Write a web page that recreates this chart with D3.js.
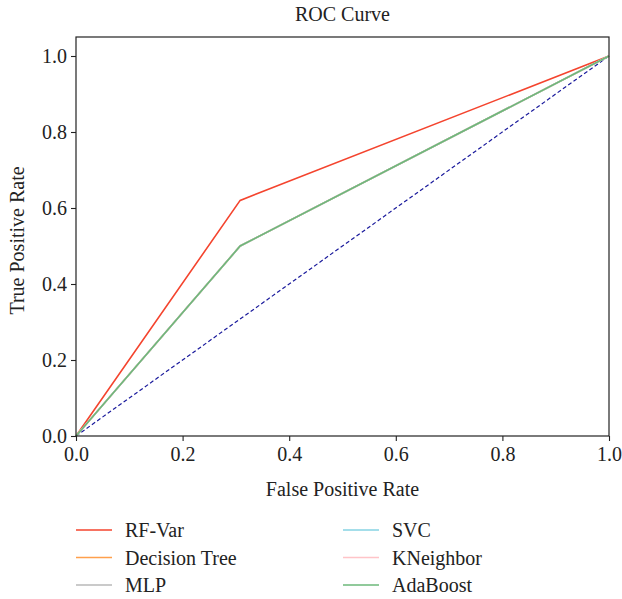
<!DOCTYPE html>
<html><head><meta charset="utf-8">
<script src="https://cdn.jsdelivr.net/npm/d3@7"></script>
<style>body{margin:0;background:#fff;} text{font-family:"Liberation Serif","DejaVu Serif",serif;fill:#222;}</style>
</head><body>
<svg id="c" width="622" height="599"></svg>
<script>
const seriesNames = ["RF-Var","Decision Tree","MLP","SVC","KNeighbor","AdaBoost"];
const seriesColors = ["#f4442e","#ffa04c","#b8b8b8","#86d3e3","#ffc4c8","#6db87a"];
const fpr = [0, 0.308, 1];
const tprRF = [0, 0.62, 1];
const tprDT = [0, 0.5, 1];
const tprMLP = [0, 0.5, 1];
const tprSVC = [0, 0.5, 1];
const tprKN = [0, 0.5, 1];
const tprAda = [0, 0.5, 1];
const diagonal = [0, 1];
const tickValues = [0, 0.2, 0.4, 0.6, 0.8, 1.0];

const svg = d3.select("#c");
const L = 76, R = 609, T = 37, B = 436;
const FS = "20px";
const x = d3.scaleLinear().domain([0,1]).range([L,R]);
const y = d3.scaleLinear().domain([0,1.05]).range([B,T]);

const allTpr = [tprRF,tprDT,tprMLP,tprSVC,tprKN,tprAda];

svg.append("path")
  .datum(diagonal.map(v=>[v,v]))
  .attr("d", d3.line().x(d=>x(d[0])).y(d=>y(d[1])))
  .attr("fill","none").attr("stroke","#1a1a9c").attr("stroke-width",1.2)
  .attr("stroke-dasharray","4,2.5");

const line = d3.line().x(d=>x(d[0])).y(d=>y(d[1]));
allTpr.forEach((t,i)=>{
  svg.append("path").datum(fpr.map((f,j)=>[f,t[j]]))
    .attr("d", line).attr("fill","none")
    .attr("stroke", seriesColors[i]).attr("stroke-width",1.6);
});

svg.append("rect").attr("x",L).attr("y",T).attr("width",R-L).attr("height",B-T)
  .attr("fill","none").attr("stroke","#222").attr("stroke-width",1.2);

const fmt = d3.format(".1f");
const xa = svg.append("g").attr("transform",`translate(0,${B})`)
  .call(d3.axisBottom(x).tickValues(tickValues).tickFormat(fmt).tickSize(5).tickPadding(6));
const ya = svg.append("g").attr("transform",`translate(${L},0)`)
  .call(d3.axisLeft(y).tickValues(tickValues).tickFormat(fmt).tickSize(5).tickPadding(4));
[xa,ya].forEach(a=>{
  a.select(".domain").remove();
  a.selectAll("line").attr("stroke","#222").attr("stroke-width",1.1);
  a.selectAll("text").style("font-family",'"Liberation Serif",serif').style("font-size",FS).attr("fill","#222");
});

svg.append("text").attr("x",(L+R)/2).attr("y",21).attr("text-anchor","middle")
  .style("font-size",FS).text("ROC Curve");
svg.append("text").attr("x",(L+R)/2).attr("y",496).attr("text-anchor","middle")
  .style("font-size",FS).text("False Positive Rate");
svg.append("text").attr("transform",`translate(24,${(T+B)/2+4}) rotate(-90)`).attr("text-anchor","middle")
  .style("font-size",FS).text("True Positive Rate");

seriesNames.forEach((n,i)=>{
  const col = Math.floor(i/3), row = i%3;
  const lx = col===0 ? 76 : 343;
  const ly = 530 + row*27.5;
  svg.append("line").attr("x1",lx).attr("x2",lx+36).attr("y1",ly).attr("y2",ly)
    .attr("stroke",seriesColors[i]).attr("stroke-width",1.6);
  svg.append("text").attr("x",lx+49).attr("y",ly+7).style("font-size",FS).text(n);
});
</script>
</body></html>
